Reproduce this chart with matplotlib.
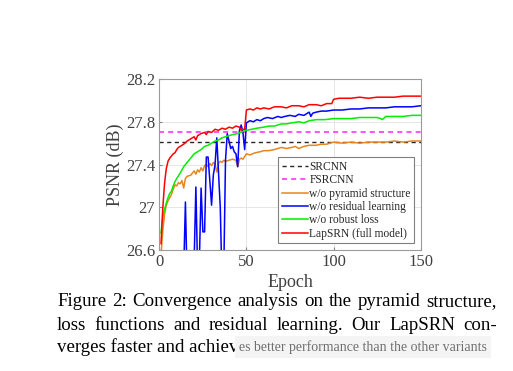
import numpy as np
import matplotlib.pyplot as plt

# PSNR convergence curves

srcnn_psnr = 27.61
fsrcnn_psnr = 27.70

ep_pyr = [1, 2, 3, 4, 5, 6, 7, 8, 9, 10, 11, 12, 13, 14, 15, 16, 18, 20, 21, 22, 23,
          24, 25, 26, 27, 28, 29, 30, 31, 32, 33, 34, 35, 36, 37, 38, 40, 42, 44, 45,
          46, 47, 48, 50, 52, 55, 58, 60, 63, 66, 70, 73, 76, 78, 80, 83, 86, 90, 93,
          96, 100, 105, 110, 115, 120, 125, 130, 135, 140, 145, 150]
psnr_pyr = [26.55, 26.78, 26.93, 27.02, 27.06, 27.09, 27.12, 27.17, 27.21, 27.20, 27.23,
            27.22, 27.25, 27.18, 27.27, 27.29, 27.30, 27.34, 27.31, 27.35, 27.33,
            27.37, 27.34, 27.39, 27.40, 27.38, 27.41, 27.39, 27.42, 27.40, 27.33,
            27.41, 27.43, 27.42, 27.44, 27.43, 27.44, 27.45, 27.44, 27.38,
            27.45, 27.46, 27.45, 27.50, 27.49, 27.51, 27.52, 27.53, 27.53, 27.54, 27.56,
            27.55, 27.56, 27.57, 27.55, 27.57, 27.58, 27.58, 27.59, 27.59, 27.61, 27.60,
            27.61, 27.60, 27.61, 27.61, 27.61, 27.62, 27.61, 27.62, 27.62]

ep_res = [1, 5, 10, 14, 15, 16, 18, 20, 21, 22, 23, 24, 25, 26, 27, 28, 29, 30, 31, 32,
          33, 34, 35, 36, 37, 38, 39, 40, 41, 42, 43, 44, 45, 46, 47, 48, 49, 50, 51,
          52, 54, 56, 58, 60, 62, 65, 68, 70, 72, 75, 78, 80, 83, 85, 86, 87, 88, 90,
          93, 96, 100, 105, 110, 115, 120, 125, 130, 135, 140, 145, 150]
psnr_res = [25.0, 25.8, 26.2, 26.4, 27.05, 26.3, 26.4, 26.5, 27.19, 26.4, 26.5, 27.18,
            26.77, 26.77, 27.47, 27.47, 27.25, 27.02, 27.30, 27.40, 27.65, 27.32, 27.00,
            26.30, 26.40, 27.44, 27.69, 27.62, 27.55, 27.57, 27.52, 27.50, 27.38, 27.72,
            27.77, 27.70, 27.54, 27.79, 27.80, 27.81, 27.80, 27.82, 27.81, 27.83, 27.84,
            27.83, 27.85, 27.84, 27.85, 27.86, 27.85, 27.87, 27.86, 27.88, 27.89, 27.85,
            27.88, 27.89, 27.90, 27.90, 27.91, 27.91, 27.92, 27.92, 27.93, 27.93, 27.93,
            27.94, 27.94, 27.94, 27.95]

ep_rob = [1, 2, 3, 4, 5, 6, 7, 8, 9, 10, 12, 14, 16, 18, 20, 22, 24, 26, 28, 30, 32, 34,
          36, 38, 40, 42, 45, 48, 50, 53, 56, 60, 63, 66, 70, 73, 76, 80, 83, 86, 90,
          95, 100, 105, 110, 115, 120, 125, 127, 128, 130, 135, 140, 145, 150]
psnr_rob = [26.76, 26.91, 26.98, 27.04, 27.09, 27.13, 27.15, 27.20, 27.24, 27.27, 27.32,
            27.38, 27.42, 27.46, 27.50, 27.52, 27.54, 27.57, 27.58, 27.60, 27.62, 27.63,
            27.65, 27.66, 27.67, 27.68, 27.69, 27.71, 27.72, 27.73, 27.74, 27.75, 27.76,
            27.76, 27.78, 27.78, 27.79, 27.80, 27.79, 27.81, 27.82, 27.82, 27.83, 27.83,
            27.83, 27.84, 27.84, 27.84, 27.83, 27.82, 27.85, 27.85, 27.85, 27.86, 27.86]

ep_lap = [1, 2, 3, 4, 5, 6, 7, 8, 9, 10, 11, 12, 14, 16, 18, 20, 21, 22, 24, 26, 27, 28,
          30, 32, 34, 36, 38, 40, 42, 44, 46, 47, 48, 49, 50, 52, 54, 56, 58, 60, 63,
          66, 70, 73, 76, 80, 83, 86, 90, 93, 96, 99, 100, 103, 106, 110, 115, 120, 125,
          130, 135, 140, 145, 150]
psnr_lap = [26.66, 26.99, 27.22, 27.36, 27.43, 27.46, 27.48, 27.50, 27.51, 27.54, 27.56,
            27.57, 27.59, 27.62, 27.64, 27.66, 27.63, 27.67, 27.69, 27.70, 27.68, 27.71,
            27.70, 27.73, 27.72, 27.74, 27.73, 27.75, 27.74, 27.76, 27.75, 27.72, 27.73,
            27.73, 27.91, 27.92, 27.91, 27.93, 27.92, 27.93, 27.92, 27.94, 27.94, 27.93,
            27.95, 27.95, 27.94, 27.96, 27.96, 27.95, 27.97, 27.97, 28.01, 28.02, 28.02,
            28.02, 28.03, 28.02, 28.03, 28.03, 28.03, 28.04, 28.04, 28.04]

xticks = [0, 50, 100, 150]
yticks = [26.6, 27.0, 27.4, 27.8, 28.2]
ytick_labels = ["26.6", "27", "27.4", "27.8", "28.2"]

caption = [
    "Figure 2:  Convergence analysis on the pyramid structure,",
    "loss functions and residual learning.  Our LapSRN con-",
]
caption_last = "verges faster and achiev"
caption_hidden = "es better performance than the other variants"

plt.rcParams["font.family"] = ["Liberation Serif", "DejaVu Serif"]
txt = "#404040"

fig = plt.figure(figsize=(5.13, 3.71), dpi=100)
ax = fig.add_axes([0.3105, 0.326, 0.5095, 0.461])

ax.axhline(srcnn_psnr, color="#262626", ls=(0, (3, 2.5)), lw=1.0, label="SRCNN")
ax.axhline(fsrcnn_psnr, color="#ff33ff", ls=(0, (3, 2.5)), lw=1.2, label="FSRCNN")
ax.plot(ep_pyr, psnr_pyr, color="#e8851c", lw=1.1, label="w/o pyramid structure")
ax.plot(ep_res, psnr_res, color="#0000ff", lw=1.1, label="w/o residual learning")
ax.plot(ep_rob, psnr_rob, color="#00ee00", lw=1.1, label="w/o robust loss")
ax.plot(ep_lap, psnr_lap, color="#ff0000", lw=1.1, label="LapSRN (full model)")

ax.set_xlim(0, 150)
ax.set_ylim(26.6, 28.2)
ax.set_xticks(xticks)
ax.set_yticks(yticks)
ax.set_yticklabels(ytick_labels)
ax.tick_params(direction="in", length=2.5, color="#808080", labelcolor=txt,
               labelsize=12, pad=3)
ax.grid(True, color="#e6e6e6", lw=0.7)
ax.set_axisbelow(True)
for s in ax.spines.values():
    s.set_color("#9a9a9a")
    s.set_linewidth(0.8)

ax.set_xlabel("Epoch", color=txt, fontsize=13, labelpad=3)
ax.set_ylabel("PSNR (dB)", color=txt, fontsize=13, labelpad=1)

leg = ax.legend(loc="lower right", bbox_to_anchor=(0.975, 0.04), fontsize=8.3,
                frameon=True, fancybox=False, edgecolor="#808080", framealpha=1,
                handlelength=2.3, handletextpad=0.1, labelspacing=0.12,
                borderpad=0.3, borderaxespad=0)
leg.get_frame().set_linewidth(0.8)
for t in leg.get_texts():
    t.set_color("#262626")

# caption, justified between x0 and x1 (figure pixels)
x0, x1 = 57, 497
line_y = [302, 325, 347]
cap_fs = 13.6
W, H = fig.bbox.width, fig.bbox.height
fig.canvas.draw()
renderer = fig.canvas.get_renderer()


def px(x, y):
    return x / W, 1 - y / H


for line, y in zip(caption, line_y):
    words = line.split()
    items = [fig.text(0, 0, w, fontsize=cap_fs, color="black", va="center") for w in words]
    widths = [t.get_window_extent(renderer).width for t in items]
    gap = (x1 - x0 - sum(widths)) / (len(words) - 1)
    x = x0
    for t, w in zip(items, widths):
        t.set_position(px(x, y))
        x += w + gap

last = fig.text(*px(x0, line_y[2]), caption_last, fontsize=cap_fs, color="black",
                va="center")
lw_ = last.get_window_extent(renderer).width
fig.text(*px(x0 + lw_ + 1, line_y[2]), caption_hidden, fontsize=10, color="#707070",
         va="center",
         bbox=dict(facecolor="#f4f4f4", edgecolor="none", pad=3))

fig.savefig("out.png", dpi=100)
